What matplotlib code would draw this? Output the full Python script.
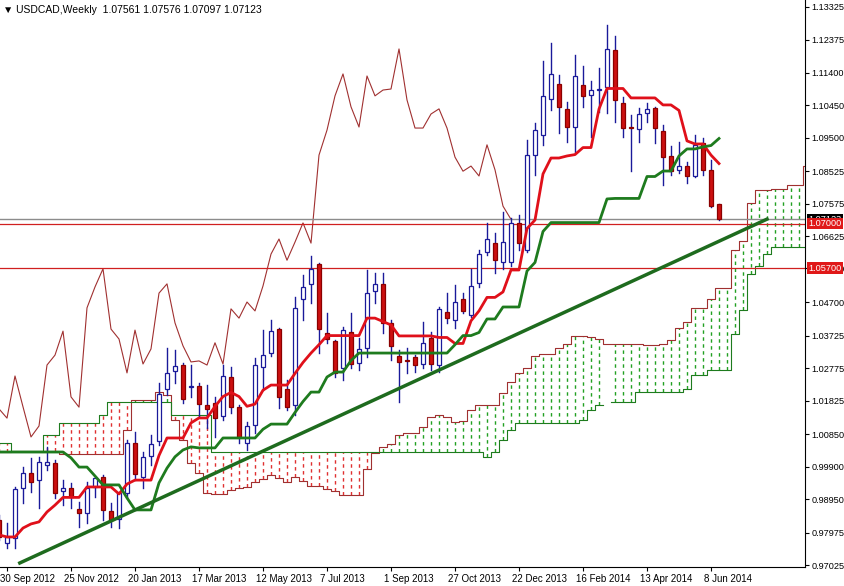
import matplotlib

matplotlib.use("Agg")
import matplotlib.pyplot as plt
import numpy as np
import pandas as pd

plt.rcParams["font.family"] = ["Liberation Sans", "DejaVu Sans"]

# weekly candles, USDCAD, 23 Sep 2012 .. 15 Jun 2014
opens = [0.9835, 0.9767, 0.9782, 0.9928, 0.9972, 0.9951, 0.9995, 1.0001, 0.9919, 0.9928,
         0.9867, 0.9855, 0.9931, 0.9960, 0.9861, 0.9838, 0.9913, 1.0059, 0.9960, 1.0021,
         1.0065, 1.0217, 1.0270, 1.0288, 1.0223, 1.0226, 1.0170, 1.0176, 1.0138, 1.0252,
         1.0165, 1.0059, 1.0112, 1.0281, 1.0322, 1.0392, 1.0217, 1.0170, 1.0480, 1.0524,
         1.0582, 1.0380, 1.0357, 1.0278, 1.0384, 1.0293, 1.0337, 1.0503, 1.0524, 1.0410,
         1.0314, 1.0302, 1.0311, 1.0290, 1.0366, 1.0287, 1.0442, 1.0418, 1.0480, 1.0433,
         1.0527, 1.0617, 1.0643, 1.0588, 1.0588, 1.0702, 1.0623, 1.0900, 1.0959, 1.1064,
         1.1108, 1.1035, 1.0982, 1.1105, 1.1076, 1.1090, 1.1099, 1.1207, 1.1052, 1.0982,
         1.0976, 1.1023, 1.1038, 1.0970, 1.0897, 1.0856, 1.0868, 1.0839, 1.0935, 1.0856,
         1.07561]
highs = [0.9849, 0.9826, 0.9931, 0.9989, 1.0016, 1.0019, 1.0048, 1.0010, 0.9951, 0.9943,
         0.9887, 0.9946, 0.9960, 0.9966, 0.9884, 0.9916, 1.0068, 1.0091, 1.0033, 1.0083,
         1.0235, 1.0337, 1.0331, 1.0294, 1.0288, 1.0235, 1.0229, 1.0194, 1.0288, 1.0282,
         1.0170, 1.0121, 1.0307, 1.0388, 1.0418, 1.0395, 1.0244, 1.0486, 1.0550, 1.0605,
         1.0585, 1.0439, 1.0360, 1.0398, 1.0439, 1.0366, 1.0565, 1.0556, 1.0556, 1.0418,
         1.0331, 1.0337, 1.0316, 1.0413, 1.0384, 1.0457, 1.0497, 1.0521, 1.0497, 1.0568,
         1.0623, 1.0702, 1.0672, 1.0734, 1.0716, 1.0725, 1.0944, 1.0994, 1.1175, 1.1227,
         1.1134, 1.1055, 1.1192, 1.1160, 1.1116, 1.1154, 1.1280, 1.1248, 1.1070, 1.1017,
         1.1038, 1.1052, 1.1041, 1.0988, 1.0927, 1.0938, 1.0880, 1.0959, 1.0950, 1.0886,
         1.07576]
lows = [0.9776, 0.9753, 0.9753, 0.9884, 0.9916, 0.9869, 0.9981, 0.9899, 0.9878, 0.9869,
        0.9814, 0.9826, 0.9902, 0.9835, 0.9814, 0.9811, 0.9899, 0.9951, 0.9928, 0.9995,
        1.0053, 1.0199, 1.0235, 1.0176, 1.0194, 1.0135, 1.0103, 1.0077, 1.0126, 1.0147,
        1.0059, 1.0039, 1.0088, 1.0214, 1.0313, 1.0161, 1.0156, 1.0141, 1.0418, 1.0468,
        1.0322, 1.0351, 1.0252, 1.0243, 1.0278, 1.0272, 1.0310, 1.0468, 1.0380, 1.0302,
        1.0179, 1.0264, 1.0267, 1.0278, 1.0272, 1.0267, 1.0410, 1.0395, 1.0439, 1.0427,
        1.0515, 1.0608, 1.0556, 1.0568, 1.0576, 1.0623, 1.0617, 1.0842, 1.0930, 1.1032,
        1.0965, 1.0938, 1.0909, 1.1041, 1.0953, 1.1026, 1.1023, 1.0997, 1.0953, 1.0854,
        1.0938, 1.0997, 1.0935, 1.0813, 1.0842, 1.0848, 1.0819, 1.0836, 1.0842, 1.0748,
        1.07097]
closes = [0.9785, 0.9785, 0.9925, 0.9972, 0.9946, 1.0004, 1.0004, 0.9913, 0.9928, 0.9902,
          0.9855, 0.9928, 0.9957, 0.9864, 0.9835, 0.9913, 1.0059, 0.9969, 1.0019, 1.0056,
          1.0202, 1.0264, 1.0285, 1.0188, 1.0226, 1.0173, 1.0159, 1.0132, 1.0255, 1.0165,
          1.0077, 1.0109, 1.0287, 1.0316, 1.0386, 1.0194, 1.0164, 1.0454, 1.0515, 1.0568,
          1.0392, 1.0363, 1.0264, 1.0389, 1.0290, 1.0334, 1.0497, 1.0524, 1.0410, 1.0343,
          1.0296, 1.0299, 1.0287, 1.0352, 1.0290, 1.0451, 1.0424, 1.0471, 1.0445, 1.0518,
          1.0611, 1.0655, 1.0593, 1.0646, 1.0702, 1.0643, 1.0900, 1.0973, 1.1073, 1.1137,
          1.1041, 1.0982, 1.1131, 1.1073, 1.1090, 1.1093, 1.1210, 1.1061, 1.0979, 1.0979,
          1.1020, 1.1035, 1.0979, 1.0894, 1.0853, 1.0868, 1.0839, 1.0930, 1.0857, 1.0751,
          1.07123]

# indicator values before full lookback is available
tenkan_head = [0.9791, 0.9785, 0.9785, 0.9811, 0.9823, 0.9829, 0.9858, 0.9878]
kijun_head = [1.0033, 1.0033, 1.0033, 1.0033, 1.0033, 1.0033, 1.0033, 1.0033, 1.0033, 1.0016,
              0.9989, 0.9989, 0.9963, 0.9937, 0.9937, 0.9937, 0.9899, 0.9864, 0.9864, 0.9864,
              0.9943, 0.9986, 1.0019, 1.0039, 1.0048]
span_a_head = [1.0033, 1.0033, 1.0036, 1.0036, 1.0036, 1.0036, 1.0036, 1.0036, 1.0027, 1.0027,
               1.0027, 1.0027, 1.0027, 1.0027, 1.0027, 1.0027, 1.0097, 1.0185, 1.0185, 1.0185,
               1.0208, 1.0200, 1.0127, 1.0068, 1.0001, 0.9972]
span_b_head = [1.0059, 1.0059, 1.0036, 1.0036, 1.0036, 1.0036, 1.0083, 1.0083, 1.0118, 1.0118,
               1.0118, 1.0118, 1.0118, 1.0141, 1.0179, 1.0179, 1.0179, 1.0179, 1.0179, 1.0179,
               1.0179, 1.0179, 1.0141, 1.0141, 1.0141, 1.0141, 1.0141] + [1.0033] * 34 + [
               1.0019, 1.0033, 1.0068, 1.0097, 1.0118, 1.0118, 1.0118, 1.0118, 1.0118,
               1.0118, 1.0118, 1.0118, 1.0127, 1.0156, 1.0170]

date_labels = ["30 Sep 2012", "25 Nov 2012", "20 Jan 2013", "17 Mar 2013", "12 May 2013",
               "7 Jul 2013", "1 Sep 2013", "27 Oct 2013", "22 Dec 2013", "16 Feb 2014",
               "13 Apr 2014", "8 Jun 2014"]
price_ticks = [1.13325, 1.12375, 1.11400, 1.10450, 1.09500, 1.08525, 1.07575, 1.06625,
               1.05700, 1.04700, 1.03725, 1.02775, 1.01825, 1.00850, 0.99900, 0.98950,
               0.97975, 0.97025]
levels = [1.07000, 1.05700]
trend_x = [2.6, 96.0]
trend_y = [0.9709, 1.0713]

n = len(closes)
df = pd.DataFrame({"o": opens, "h": highs, "l": lows, "c": closes})
tenkan = ((df.h.rolling(9).max() + df.l.rolling(9).min()) / 2).to_numpy()
tenkan[:len(tenkan_head)] = tenkan_head
kijun = ((df.h.rolling(26).max() + df.l.rolling(26).min()) / 2).to_numpy()
kijun[:len(kijun_head)] = kijun_head
spanb52 = ((df.h.rolling(52).max() + df.l.rolling(52).min()) / 2).to_numpy()

m = n + 26
span_a = np.full(m, np.nan)
span_b = np.full(m, np.nan)
span_a[:26] = span_a_head
span_a[26:] = (tenkan + kijun) / 2
span_b[:len(span_b_head)] = span_b_head
for i in range(len(span_b_head), m):
    span_b[i] = spanb52[i - 26]

RED = "#E0101A"
GREEN = "#1E7B1E"
NAVY = "#1A1A9A"
BROWN = "#A03030"

fig = plt.figure(figsize=(8.45, 5.86), dpi=100)
ax = fig.add_axes([0, 19 / 586, 805 / 845, 567 / 586])
ax.set_facecolor("white")

# cloud hatching
xs = np.arange(m)
for i in xs:
    a, b = span_a[i], span_b[i]
    col = "#22A022" if a >= b else "#E03030"
    ax.plot([i, i], [min(a, b), max(a, b)], color=col, lw=1.0, ls=(0, (2.5, 2.5)), zorder=1)
ax.step(xs, span_a, where="mid", color=BROWN, lw=0.8, zorder=2)
ax.step(xs, span_b, where="mid", color=GREEN, lw=0.8, zorder=2)

# chikou span
ax.plot(np.arange(n) - 26, closes, color=BROWN, lw=0.8, zorder=2)

# price levels
ax.axhline(closes[-1], color="#8C8C8C", lw=1, zorder=2)
for lv in levels:
    ax.axhline(lv, color="#D02020", lw=0.9, zorder=2)

# candles
for i in range(n):
    o, h, l, c = opens[i], highs[i], lows[i], closes[i]
    ax.plot([i, i], [l, h], color=NAVY, lw=1, zorder=3)
    up = c >= o
    ax.bar(i, max(abs(c - o), 0.00008), bottom=min(o, c), width=0.62,
           color="white" if up else "#CC1010", edgecolor=NAVY if up else "#8B0000",
           lw=0.9, zorder=4)

ax.plot(np.arange(n), tenkan, color=RED, lw=2, zorder=5)
ax.plot(np.arange(n), kijun, color=GREEN, lw=2, zorder=5)
ax.plot(trend_x, trend_y, color="#1E6B1E", lw=2.5, zorder=6)

x0, x1 = 1 / 8, 806 / 8
ylo = 1.13529 - 0.000292 * 567
ax.set_xlim(x0, x1)
ax.set_ylim(ylo, 1.13529)

ax.yaxis.tick_right()
ax.set_yticks(price_ticks)
ax.set_yticklabels([f"{v:.5f}" for v in price_ticks], fontsize=6.6)
ax.tick_params(axis="y", length=3, pad=1.5)
label_pos = [1 + 8 * k for k in range(len(date_labels))]
ax.set_xticks(label_pos)
ax.set_xticklabels([])
ax.tick_params(axis="x", length=3)
for pos, txt in zip(label_pos, date_labels):
    ax.text(pos - 0.9, -0.013, txt, transform=ax.get_xaxis_transform(),
            ha="left", va="top", fontsize=7, clip_on=False)
for s in ["top", "left"]:
    ax.spines[s].set_visible(False)

# value boxes on price axis
for v, fc in [(closes[-1], "black"), (1.07000, "#E01818"), (1.05700, "#E01818")]:
    ax.text(1.004, v, f"{v:.5f}", transform=ax.get_yaxis_transform(), ha="left",
            va="center", fontsize=6.6, color="white",
            bbox=dict(boxstyle="square,pad=0.15", fc=fc, ec="none"), clip_on=False)

fig.text(0.004, 0.992, "\u25bc USDCAD,Weekly  1.07561 1.07576 1.07097 1.07123",
         ha="left", va="top", fontsize=7.5)

fig.savefig("out.png", dpi=100)
